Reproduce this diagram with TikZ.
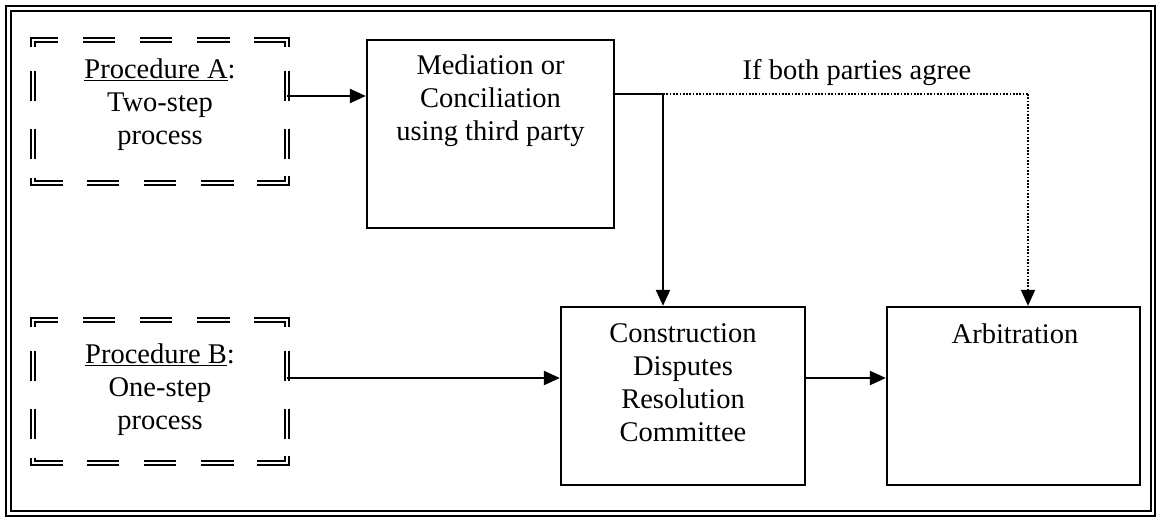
\documentclass[tikz,border=0pt]{standalone}
\usepackage{fontspec}
\setmainfont{Liberation Serif}
\usetikzlibrary{arrows.meta,calc}

\tikzset{
  procbox/.style={draw, line width=2.3pt, inner sep=0pt},
  ghostbox/.style={draw=none, inner sep=0pt, minimum width=254pt, minimum height=143pt},
  lbl/.style={font=\fontsize{28.5}{33}\selectfont, align=center, inner sep=0pt},
  conn/.style={line width=2.2pt},
  tip/.style={-{Triangle[length=16pt,width=14pt]}},
  arr/.style={line width=2.2pt, tip},
  dotl/.style={line width=1.7pt, dash pattern=on 1.7pt off 1.6pt},
  dblseg/.style={double, line width=1.9pt, double distance=1.8pt, line join=miter},
}

% double-dashed outline around a named node
\newcommand{\dashframe}[1]{%
  \draw[dblseg] ($(#1.north west)+(0,7)$) -- (#1.north west) -- ($(#1.north west)+(25,0)$);
  \draw[dblseg] ($(#1.north east)+(-33,0)$) -- (#1.north east) -- ($(#1.north east)+(0,7)$);
  \draw[dblseg] ($(#1.south west)+(0,-5)$) -- (#1.south west) -- ($(#1.south west)+(30,0)$);
  \draw[dblseg] ($(#1.south east)+(-30,0)$) -- (#1.south east) -- ($(#1.south east)+(0,-7)$);
  \foreach \a/\b in {50/82,107/139,164/197}{
    \draw[dblseg] ($(#1.north west)+(\a,0)$) -- ($(#1.north west)+(\b,0)$);
    \draw[dblseg] ($(#1.south west)+(\a+4,0)$) -- ($(#1.south west)+(\b+4,0)$);
  }
  \foreach \a/\b in {31/61,89/119}{
    \draw[dblseg] ($(#1.north west)+(0,\a)$) -- ($(#1.north west)+(0,\b)$);
    \draw[dblseg] ($(#1.north east)+(0,\a)$) -- ($(#1.north east)+(0,\b)$);
  }
}

\begin{document}
\begin{tikzpicture}[x=1pt, y=-1pt]
  \useasboundingbox (0,0) rectangle (1159,519);

  % outer frame
  \draw[double, line width=1.8pt, double distance=2.6pt] (8.5,8.5) rectangle (1153,513.5);

  % procedure boxes
  \node[ghostbox] (A) at (160,111.5) {};
  \node[ghostbox] (B) at (160,391.5) {};
  \dashframe{A}
  \dashframe{B}
  \node[lbl, anchor=north] (Atxt) at (160,58.5) {\underline{Procedure A}:\\Two-step\\process};
  \node[lbl, anchor=north] (Btxt) at (160,343.5) {\underline{Procedure B}:\\One-step\\process};

  % process boxes
  \node[procbox, minimum width=247pt, minimum height=188pt] (M) at (490.5,134) {};
  \node[procbox, minimum width=244pt, minimum height=178pt] (C) at (683,396) {};
  \node[procbox, minimum width=253pt, minimum height=178pt] (R) at (1013.5,396) {};

  \node[lbl, anchor=north] (Mtxt) at (490.5,55) {Mediation or\\Conciliation\\using third party};
  \node[lbl, anchor=north] (Ctxt) at (683,323.5) {Construction\\Disputes\\Resolution\\Committee};
  \node[lbl, anchor=north] (Rtxt) at (1015,323.5) {Arbitration};

  \node[lbl, anchor=base] (agree) at (857,80) {If both parties agree};

  % connectors
  \coordinate (aout) at ($(A.east)+(0,-15.5)$);
  \draw[arr] (aout) -- (aout -| M.west);

  \coordinate (split) at (663,94);
  \coordinate (turn) at (1028,94);
  \draw[conn] (M.east |- split) -- (split);
  \draw[arr] (split) -- (split |- C.north);
  \draw[dotl] (split) -- (turn);
  \draw[dotl, tip] (turn) -- (turn |- R.north);

  \coordinate (lvl) at (0,378);
  \draw[arr] (B.east |- lvl) -- (C.west |- lvl);
  \draw[arr] (C.east |- lvl) -- (R.west |- lvl);
\end{tikzpicture}
\end{document}
